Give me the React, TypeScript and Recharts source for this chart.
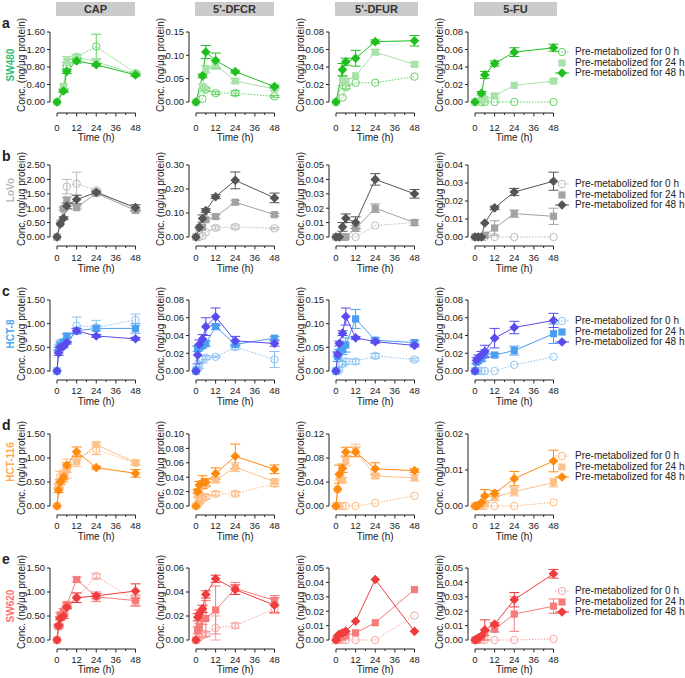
import React from "react";
import { LineChart, Line, XAxis, YAxis, ErrorBar, ReferenceLine } from "recharts";

// ---- data ----
const DRUGS = ["CAP", "5'-DFCR", "5'-DFUR", "5-FU"];
const CELLS = ["SW480", "LoVo", "HCT-8", "HCT-116", "SW620"];
const ROW_LETTERS = ["a", "b", "c", "d", "e"];
const LEGEND_NAMES = ["Pre-metabolized for 0 h", "Pre-metabolized for 24 h", "Pre-metabolized for 48 h"];
const X_TICKS = [0, 6, 12, 18, 24, 30, 36, 42, 48];

const TIMES_SW480 = [0, 4, 6, 12, 24, 48];
const TIMES_LOVO = [0, 2, 4, 6, 12, 24, 48];
const TIMES_HCT8 = [0, 1, 2, 4, 6, 12, 24, 48];
const TIMES_HCT116 = [0, 1, 2, 4, 6, 12, 24, 48];
const TIMES_SW620 = [0, 1, 2, 4, 6, 12, 24, 48];

const TICKS_SW480 = [[0, 0.4, 0.8, 1.2, 1.6], [0, 0.05, 0.1, 0.15], [0, 0.02, 0.04, 0.06, 0.08], [0, 0.02, 0.04, 0.06, 0.08]];
const TICKS_LOVO = [[0, 0.5, 1, 1.5, 2, 2.5], [0, 0.1, 0.2, 0.3], [0, 0.01, 0.02, 0.03, 0.04, 0.05], [0, 0.01, 0.02, 0.03, 0.04]];
const TICKS_HCT8 = [[0, 0.5, 1, 1.5], [0, 0.02, 0.04, 0.06, 0.08], [0, 0.05, 0.1, 0.15], [0, 0.02, 0.04, 0.06, 0.08]];
const TICKS_HCT116 = [[0, 0.5, 1, 1.5], [0, 0.02, 0.04, 0.06, 0.08, 0.1], [0, 0.04, 0.08, 0.12], [0, 0.01, 0.02]];
const TICKS_SW620 = [[0, 0.5, 1, 1.5], [0, 0.02, 0.04, 0.06], [0, 0.01, 0.02, 0.03, 0.04, 0.05], [0, 0.01, 0.02, 0.03, 0.04, 0.05]];

// each: [0 h, 24 h, 48 h]
const SW480_CAP = [[0, 0.28, 0.82, 1.03, 1.27, 0.66], [0, 0.36, 0.94, 1.03, 0.92, 0.64], [0, 0.25, 0.7, 0.94, 0.85, 0.62]];
const SW480_CAP_ERR = [[0, 0.03, 0.08, 0.05, 0.28, 0.03], [0, 0.05, 0.1, 0.05, 0.06, 0.03], [0, 0.03, 0.05, 0.05, 0.03, 0.03]];
const SW480_DFCR = [[0, 0.007, 0.027, 0.019, 0.019, 0.012], [0, 0.033, 0.07, 0.08, 0.045, 0.028], [0, 0.056, 0.107, 0.089, 0.065, 0.033]];
const SW480_DFCR_ERR = [[0, 0, 0.003, 0.003, 0.005, 0.002], [0, 0.005, 0.008, 0.01, 0.004, 0.003], [0, 0.004, 0.014, 0.016, 0.003, 0.003]];
const SW480_DFUR = [[0, 0.005, 0.017, 0.022, 0.022, 0.029], [0, 0.024, 0.024, 0.03, 0.057, 0.043], [0, 0.037, 0.046, 0.05, 0.069, 0.07]];
const SW480_DFUR_ERR = [[0, 0, 0.002, 0, 0, 0], [0, 0.005, 0.003, 0, 0.003, 0.002], [0, 0.007, 0.004, 0.009, 0.002, 0.006]];
const SW480_FU = [[0, 0, 0, 0, 0, 0], [0, 0.002, 0.003, 0.007, 0.019, 0.024], [0, 0.01, 0.031, 0.044, 0.057, 0.062]];
const SW480_FU_ERR = [[0, 0, 0, 0, 0, 0], [0, 0, 0, 0.002, 0, 0.002], [0, 0.002, 0.004, 0.003, 0.005, 0.004]];

const LOVO_CAP = [[0, 0.5, 0.98, 1.75, 1.85, 1.62, 0.95], [0, 0.48, 0.98, 1.28, 1.02, 1.52, 0.92], [0, 0.45, 0.65, 1.08, 1.3, 1.55, 1.02]];
const LOVO_CAP_ERR = [[0, 0, 0, 0.25, 0.4, 0.05, 0.05], [0, 0, 0.05, 0.1, 0.05, 0.05, 0.05], [0, 0, 0.05, 0.1, 0.15, 0.05, 0.1]];
const LOVO_DFCR = [[0, 0, 0.005, 0.02, 0.038, 0.042, 0.036], [0, 0.038, 0.04, 0.072, 0.085, 0.145, 0.093], [0, 0.04, 0.077, 0.11, 0.168, 0.236, 0.163]];
const LOVO_DFCR_ERR = [[0, 0, 0, 0, 0.008, 0.008, 0.004], [0, 0, 0, 0.005, 0.008, 0.008, 0.006], [0, 0, 0.015, 0.008, 0.008, 0.035, 0.02]];
const LOVO_DFUR = [[0, 0, 0, 0, 0, 0.008, 0.01], [0, 0, 0, 0, 0.006, 0.02, 0.01], [0, 0, 0.007, 0.013, 0.01, 0.04, 0.03]];
const LOVO_DFUR_ERR = [[0, 0, 0, 0, 0, 0, 0], [0, 0, 0, 0, 0.002, 0.003, 0.002], [0, 0, 0.003, 0.003, 0.004, 0.004, 0.003]];
const LOVO_FU = [[0, 0, 0, 0, 0, 0, 0], [0, 0, 0, 0.001, 0.005, 0.013, 0.0115], [0, 0, 0, 0.0078, 0.0162, 0.025, 0.031]];
const LOVO_FU_ERR = [[0, 0, 0, 0, 0, 0, 0], [0, 0, 0, 0.001, 0.004, 0.002, 0.0045], [0, 0, 0, 0, 0.001, 0.002, 0.005]];

const HCT8_CAP = [[0, 0.5, 0.6, 0.62, 0.7, 0.96, 0.92, 1.08], [0, 0.45, 0.55, 0.6, 0.74, 0.85, 0.9, 0.9], [0, 0.38, 0.5, 0.52, 0.6, 0.85, 0.74, 0.68]];
const HCT8_CAP_ERR = [[0, 0.05, 0.05, 0.05, 0.08, 0.18, 0.15, 0.12], [0, 0.05, 0.05, 0.05, 0.05, 0.05, 0.05, 0.1], [0, 0.05, 0.03, 0.03, 0.03, 0.05, 0.03, 0.03]];
const HCT8_DFCR = [[0, 0.003, 0.007, 0.013, 0.015, 0.016, 0.027, 0.013], [0, 0.025, 0.027, 0.029, 0.031, 0.05, 0.03, 0.037], [0, 0.018, 0.03, 0.036, 0.05, 0.061, 0.034, 0.031]];
const HCT8_DFCR_ERR = [[0, 0.002, 0.004, 0.004, 0.002, 0.001, 0.003, 0.009], [0, 0.003, 0.003, 0.003, 0.003, 0.003, 0.003, 0.002], [0, 0.01, 0.005, 0.005, 0.01, 0.01, 0.005, 0.003]];
const HCT8_DFUR = [[0, 0, 0.002, 0.015, 0.02, 0.02, 0.032, 0.024], [0, 0.03, 0.04, 0.045, 0.055, 0.11, 0.065, 0.06], [0, 0.035, 0.058, 0.08, 0.115, 0.07, 0.062, 0.054]];
const HCT8_DFUR_ERR = [[0, 0, 0, 0.005, 0.006, 0.005, 0.005, 0.003], [0, 0.01, 0.005, 0.01, 0.015, 0.02, 0.005, 0.005], [0, 0.005, 0.005, 0.005, 0.018, 0.003, 0.003, 0.003]];
const HCT8_FU = [[0, 0, 0, 0, 0, 0, 0.007, 0.016], [0, 0.01, 0.012, 0.014, 0.02, 0.018, 0.023, 0.042], [0, 0.012, 0.015, 0.018, 0.022, 0.037, 0.049, 0.057]];
const HCT8_FU_ERR = [[0, 0, 0, 0, 0, 0, 0, 0], [0, 0.002, 0.002, 0.003, 0.004, 0.002, 0.005, 0.011], [0, 0.003, 0.003, 0.004, 0.007, 0.011, 0.007, 0.008]];

const HCT116_CAP = [[0, 0.4, 0.62, 0.65, 0.75, 1.0, 1.17, 0.9], [0, 0.42, 0.5, 0.55, 0.78, 0.92, 1.28, 0.9], [0, 0.33, 0.5, 0.6, 0.85, 1.13, 0.8, 0.68]];
const HCT116_CAP_ERR = [[0, 0.05, 0.1, 0.1, 0.05, 0.05, 0.1, 0.05], [0, 0.05, 0.05, 0.05, 0.2, 0.1, 0.05, 0.05], [0, 0.05, 0.05, 0.05, 0.05, 0.1, 0.03, 0.08]];
const HCT116_DFCR = [[0, 0.002, 0.005, 0.01, 0.013, 0.017, 0.017, 0.031], [0, 0.015, 0.02, 0.03, 0.03, 0.036, 0.054, 0.034], [0, 0.02, 0.029, 0.033, 0.033, 0.045, 0.069, 0.051]];
const HCT116_DFCR_ERR = [[0, 0, 0.002, 0.003, 0.003, 0.003, 0.003, 0.004], [0, 0.003, 0.004, 0.005, 0.003, 0.003, 0.006, 0.003], [0, 0.003, 0.005, 0.009, 0.005, 0.008, 0.017, 0.006]];
const HCT116_DFUR = [[0, 0, 0, 0, 0, 0, 0.005, 0.017], [0, 0.028, 0.048, 0.043, 0.076, 0.093, 0.05, 0.047], [0, 0.028, 0.053, 0.063, 0.09, 0.09, 0.062, 0.059]];
const HCT116_DFUR_ERR = [[0, 0, 0, 0, 0, 0, 0, 0], [0, 0, 0.005, 0.004, 0.008, 0.01, 0.004, 0.005], [0, 0, 0.015, 0.007, 0.008, 0.008, 0.01, 0.003]];
const HCT116_FU = [[0, 0, 0, 0, 0, 0, 0, 0.001], [0, 0, 0, 0.0003, 0.0007, 0.0025, 0.004, 0.0065], [0, 0, 0.0002, 0.001, 0.0028, 0.0035, 0.0076, 0.0125]];
const HCT116_FU_ERR = [[0, 0, 0, 0, 0, 0, 0, 0], [0, 0, 0, 0, 0, 0.001, 0.0012, 0.0012], [0, 0, 0, 0, 0.0018, 0.0008, 0.002, 0.003]];

const SW620_CAP = [[0, 0.3, 0.45, 0.55, 0.7, 0.88, 1.33, 0.82], [0, 0.28, 0.52, 0.6, 0.74, 1.26, 0.9, 0.82], [0, 0.3, 0.45, 0.5, 0.68, 0.88, 0.92, 1.02]];
const SW620_CAP_ERR = [[0, 0.03, 0.03, 0.05, 0.05, 0.1, 0.05, 0.12], [0, 0.03, 0.05, 0.05, 0.05, 0.05, 0.1, 0.1], [0, 0.03, 0.03, 0.05, 0.03, 0.1, 0.05, 0.15]];
const SW620_DFCR = [[0, 0.001, 0.002, 0.004, 0.005, 0.01, 0.012, 0.026], [0, 0.008, 0.011, 0.018, 0.018, 0.025, 0.043, 0.033], [0, 0.019, 0.022, 0.026, 0.038, 0.051, 0.042, 0.029]];
const SW620_DFCR_ERR = [[0, 0, 0, 0.002, 0.002, 0.01, 0.002, 0.004], [0, 0.003, 0.003, 0.005, 0.015, 0.02, 0.005, 0.004], [0, 0.003, 0.003, 0.003, 0.003, 0.003, 0.004, 0.006]];
const SW620_DFUR = [[0, 0, 0, 0, 0, 0, 0, 0.017], [0, 0.001, 0.002, 0.002, 0.003, 0.005, 0.012, 0.035], [0, 0.003, 0.004, 0.005, 0.006, 0.013, 0.042, 0.006]];
const SW620_FU = [[0, 0, 0, 0, 0, 0, 0, 0.0008], [0, 0, 0.001, 0.002, 0.005, 0.0075, 0.018, 0.0235], [0, 0.0005, 0.0015, 0.003, 0.007, 0.011, 0.028, 0.046]];
const SW620_FU_ERR = [[0, 0, 0, 0, 0, 0, 0, 0], [0, 0, 0, 0, 0.002, 0.002, 0.012, 0.005], [0, 0, 0, 0, 0.007, 0.001, 0.005, 0.003]];

const ROW_TIMES = [TIMES_SW480, TIMES_LOVO, TIMES_HCT8, TIMES_HCT116, TIMES_SW620];
const ROW_TICKS = [TICKS_SW480, TICKS_LOVO, TICKS_HCT8, TICKS_HCT116, TICKS_SW620];
const DATA = [
  [SW480_CAP, SW480_DFCR, SW480_DFUR, SW480_FU],
  [LOVO_CAP, LOVO_DFCR, LOVO_DFUR, LOVO_FU],
  [HCT8_CAP, HCT8_DFCR, HCT8_DFUR, HCT8_FU],
  [HCT116_CAP, HCT116_DFCR, HCT116_DFUR, HCT116_FU],
  [SW620_CAP, SW620_DFCR, SW620_DFUR, SW620_FU],
];
const ERRS = [
  [SW480_CAP_ERR, SW480_DFCR_ERR, SW480_DFUR_ERR, SW480_FU_ERR],
  [LOVO_CAP_ERR, LOVO_DFCR_ERR, LOVO_DFUR_ERR, LOVO_FU_ERR],
  [HCT8_CAP_ERR, HCT8_DFCR_ERR, HCT8_DFUR_ERR, HCT8_FU_ERR],
  [HCT116_CAP_ERR, HCT116_DFCR_ERR, HCT116_DFUR_ERR, HCT116_FU_ERR],
  [SW620_CAP_ERR, SW620_DFCR_ERR, null, SW620_FU_ERR],
];

// ---- styling / layout ----
const FONT = "'Liberation Sans', Arial, sans-serif";
const INK = "#222";
const ROW_COLORS = [
  ["#5fd35f", "#a9e2a9", "#1fbf1f"],
  ["#bdbdbd", "#a2a2a2", "#555555"],
  ["#8cc2f5", "#4a9ff0", "#5a4bef"],
  ["#ffb878", "#fdc28c", "#ff8a10"],
  ["#f8a3a3", "#f67c7c", "#f03c3c"],
];
const LABEL_COLORS = ["#2dbb74", "#b8b8b8", "#48a4f0", "#ffa84a", "#ff7272"];

const X0 = [57, 196, 336, 475]; // pixel of t = 0
const ROW_TOP = [32, 165, 300, 434, 568];
const ROW_ZERO = [102, 237, 371, 506, 640];
const X_GAP_ROW = [11, 9, 9, 9, 9]; // x axis drawn below y = 0
const TICK_BASE = [17.5, 14.5, 13.5, 13.5, 13.5]; // tick label baseline below x axis
const TIME_OFF = [36, 32, 31, 31, 30]; // "Time (h)" centre below y = 0
const CELL_LABEL_Y = [65, 190, 334, 462, 606];
const LEGEND_Y = [52, 184, 321, 456, 591];
const X_SPAN = 78.5;
const Y_GAP = 7;
const YW = 34;
const XH = 26;
const MT = 6;
const MR = 6;

function Marker({ cx, cy, kind, color }: { cx?: number; cy?: number; kind: number; color: string }) {
  if (cx == null || cy == null) return null;
  if (kind === 0) return <circle cx={cx} cy={cy} r={3.7} fill="none" stroke={color} strokeWidth={1} />;
  if (kind === 1) return <rect x={cx - 3.6} y={cy - 3.6} width={7.2} height={7.2} fill={color} />;
  const d = 4.8;
  return <path d={`M${cx},${cy - d}L${cx + d},${cy}L${cx},${cy + d}L${cx - d},${cy}Z`} fill={color} />;
}

const XTick = (props: any) => {
  const { x, payload, axisY, base } = props;
  const v = payload.value;
  const major = v % 12 === 0;
  return (
    <g>
      <line x1={x} x2={x} y1={axisY} y2={axisY + (major ? 3.5 : 2)} stroke={INK} strokeWidth={1} />
      {major ? (
        <text x={x} y={axisY + base} textAnchor="middle" fontSize={9.5} fill={INK} fontFamily={FONT}>
          {v}
        </text>
      ) : null}
    </g>
  );
};

function Panel({ r, c }: { r: number; c: number }) {
  const times = ROW_TIMES[r];
  const series = DATA[r][c];
  const errs = ERRS[r][c];
  const ticks = ROW_TICKS[r][c];
  const ymax = ticks[ticks.length - 1];
  const top = ROW_TOP[r];
  const zero = ROW_ZERO[r];
  const xGap = X_GAP_ROW[r];
  const pxPerY = (zero - top) / ymax;
  const ymin = -xGap / pxPerY;
  const xmin = (-Y_GAP / X_SPAN) * 48;
  const axisX = X0[c] - Y_GAP;
  const plotW = X_SPAN + Y_GAP;
  const plotH = zero + xGap - top;
  const colors = ROW_COLORS[r];

  const rows = times.map((t, i) => {
    const o: any = { t };
    for (let k = 0; k < 3; k++) {
      o["v" + k] = series[k][i];
      const e = errs ? errs[k][i] : 0;
      o["e" + k] = e ? e : null;
    }
    return o;
  });

  return (
    <div style={{ position: "absolute", left: axisX - YW, top: top - MT }}>
      <LineChart
        width={YW + plotW + MR}
        height={MT + plotH + XH}
        data={rows}
        margin={{ top: MT, right: MR, left: 0, bottom: 0 }}
      >
        <XAxis
          type="number"
          dataKey="t"
          domain={[xmin, 48]}
          ticks={X_TICKS}
          interval={0}
          height={XH}
          axisLine={false}
          tickLine={false}
          tick={<XTick axisY={MT + plotH} base={TICK_BASE[r]} />}
        />
        <YAxis
          type="number"
          domain={[ymin, ymax]}
          ticks={ticks}
          interval={0}
          width={YW}
          axisLine={false}
          tickSize={3}
          tickMargin={2}
          tickLine={{ stroke: INK }}
          tick={{ fontSize: 9.5, fill: INK, fontFamily: FONT }}
          tickFormatter={(v: number) => v.toFixed(2)}
        />
        <ReferenceLine segment={[{ x: xmin, y: 0 }, { x: xmin, y: ymax }]} stroke={INK} strokeWidth={1} ifOverflow="visible" />
        <ReferenceLine segment={[{ x: 0, y: ymin }, { x: 48, y: ymin }]} stroke={INK} strokeWidth={1} ifOverflow="visible" />
        {[0, 1, 2].map((k) => (
          <Line
            key={k}
            type="linear"
            dataKey={"v" + k}
            stroke={colors[k]}
            strokeWidth={1}
            strokeDasharray={k === 0 ? "1.5 1.5" : undefined}
            isAnimationActive={false}
            dot={(p: any) => <Marker key={p.index} cx={p.cx} cy={p.cy} kind={k} color={colors[k]} />}
            activeDot={false}
          >
            {errs ? <ErrorBar dataKey={"e" + k} width={5} strokeWidth={1} stroke={colors[k]} direction="y" /> : null}
          </Line>
        ))}
      </LineChart>
    </div>
  );
}

function Legend3({ r }: { r: number }) {
  const colors = ROW_COLORS[r];
  return (
    <div style={{ position: "absolute", left: 552, top: LEGEND_Y[r] - 5.35 }}>
      {[0, 1, 2].map((k) => (
        <div key={k} style={{ display: "flex", alignItems: "center", height: 10.7 }}>
          <svg width={20} height={10} style={{ display: "block" }}>
            {k !== 1 ? (
              <line x1={3} x2={17} y1={5} y2={5} stroke={colors[k]} strokeWidth={1} strokeDasharray={k === 0 ? "1.5 1.5" : undefined} />
            ) : null}
            <Marker cx={10} cy={5} kind={k} color={colors[k]} />
          </svg>
          <span style={{ fontSize: 10, marginLeft: 3, whiteSpace: "nowrap", color: INK, lineHeight: "10px" }}>{LEGEND_NAMES[k]}</span>
        </div>
      ))}
    </div>
  );
}

function VText({ x, y, text, style }: { x: number; y: number; text: string; style?: React.CSSProperties }) {
  return (
    <div
      style={{
        position: "absolute",
        left: x - 70,
        top: y - 6,
        width: 140,
        height: 12,
        lineHeight: "12px",
        textAlign: "center",
        transform: "rotate(-90deg)",
        whiteSpace: "nowrap",
        ...style,
      }}
    >
      {text}
    </div>
  );
}

export default function App() {
  return (
    <div
      style={{
        position: "absolute",
        left: 0,
        top: 0,
        width: 685,
        height: 678,
        overflow: "hidden",
        background: "#fff",
        fontFamily: FONT,
        color: INK,
      }}
    >
      {DRUGS.map((d, c) => (
        <div
          key={d}
          style={{
            position: "absolute",
            left: X0[c] - 1,
            top: 2,
            width: c < 2 ? 79 : 83,
            height: 14,
            lineHeight: "14px",
            background: "#cbcbcb",
            textAlign: "center",
            fontWeight: "bold",
            fontSize: 11,
            color: "#333",
          }}
        >
          {d}
        </div>
      ))}
      {CELLS.map((cell, r) => (
        <React.Fragment key={cell}>
          <div style={{ position: "absolute", left: 2, top: ROW_TOP[r] - 17, fontWeight: "bold", fontSize: 14 }}>
            {ROW_LETTERS[r]}
          </div>
          <VText x={11} y={CELL_LABEL_Y[r]} text={cell} style={{ color: LABEL_COLORS[r], fontWeight: "bold", fontSize: 10 }} />
          {DRUGS.map((d, c) => (
            <React.Fragment key={d}>
              <Panel r={r} c={c} />
              <VText
                x={X0[c] - Y_GAP - 28}
                y={(ROW_TOP[r] + ROW_ZERO[r]) / 2 - 2}
                text="Conc. (ng/μg protein)"
                style={{ fontSize: 10 }}
              />
              <div
                style={{
                  position: "absolute",
                  left: X0[c] + X_SPAN / 2 - 30,
                  top: ROW_ZERO[r] + TIME_OFF[r] - 6,
                  width: 60,
                  textAlign: "center",
                  fontSize: 10,
                  lineHeight: "12px",
                }}
              >
                Time (h)
              </div>
            </React.Fragment>
          ))}
          <Legend3 r={r} />
        </React.Fragment>
      ))}
    </div>
  );
}
